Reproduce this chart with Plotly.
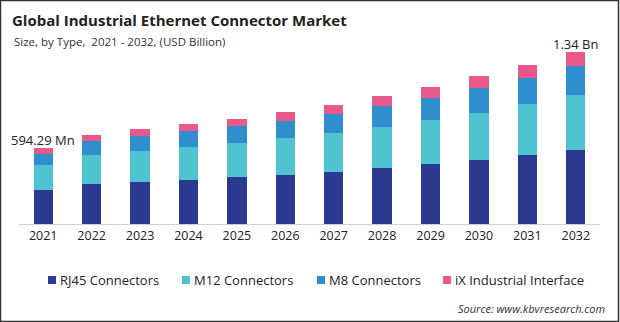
import plotly.graph_objects as go

years = ["2021", "2022", "2023", "2024", "2025", "2026", "2027", "2028", "2029", "2030", "2031", "2032"]
rj45 = [268, 312, 328, 344, 367, 383, 406, 437, 468, 500, 539, 577]
m12 = [193, 226, 242, 258, 266, 289, 305, 320, 343, 367, 398, 429]
m8 = [86, 109, 117, 125, 133, 133, 148, 164, 172, 195, 203, 226]
ix = [47.29, 47, 55, 55, 55, 70, 70, 78, 86, 94, 101, 108]

series_names = ["RJ45 Connectors", "M12 Connectors", "M8 Connectors", "iX Industrial Interface"]
series_values = [rj45, m12, m8, ix]
series_colors = ["#2B3990", "#4FC3CF", "#2E8ECE", "#E8588A"]

totals = [a + b + c + d for a, b, c, d in zip(rj45, m12, m8, ix)]
first_label = "594.29 Mn"
last_label = "1.34 Bn"

FONT = "Open Sans"
W, H = 620, 322
ML, MR, MT, MB = 19, 20, 40, 98
PW, PH = W - ML - MR, H - MT - MB


def px(x):
    return (x - ML) / PW


def py(y):
    return (H - MB - y) / PH


fig = go.Figure()
for name, vals, col in zip(series_names, series_values, series_colors):
    fig.add_trace(go.Bar(x=years, y=vals, name=name, marker=dict(color=col, line=dict(width=0)),
                         hoverinfo="skip", showlegend=False))

fig.add_annotation(x=0, y=totals[0], text=first_label, showarrow=False,
                   yanchor="bottom", yshift=-3, font=dict(family=FONT, size=13, color="#222"))
fig.add_annotation(x=len(years) - 1, y=totals[-1], text=last_label, showarrow=False,
                   yanchor="bottom", yshift=-3, font=dict(family=FONT, size=13, color="#222"))

fig.add_annotation(xref="paper", yref="paper", x=px(12), y=py(41.5),
                   xanchor="left", yanchor="middle", showarrow=False,
                   text="Size, by Type,  2021 - 2032, (USD Billion)",
                   font=dict(family=FONT, size=11.5, color="#333"))
fig.add_annotation(xref="paper", yref="paper", x=px(607), y=py(308),
                   xanchor="right", yanchor="middle", showarrow=False,
                   text="<i>Source: www.kbvresearch.com</i>",
                   font=dict(family=FONT, size=11, color="#333"))

# custom legend (square + label)
legend_x = [48, 182, 317, 443]
legend_y = 280
shapes = []
for lx, name, col in zip(legend_x, series_names, series_colors):
    shapes.append(dict(type="rect", xref="paper", yref="paper",
                       x0=px(lx), x1=px(lx + 8), y0=py(legend_y + 4), y1=py(legend_y - 4),
                       line=dict(width=0), fillcolor=col))
    fig.add_annotation(xref="paper", yref="paper", x=px(lx + 10), y=py(legend_y),
                       xanchor="left", yanchor="middle", showarrow=False, text=name,
                       font=dict(family=FONT, size=13, color="#222"))

shapes.append(dict(type="rect", xref="paper", yref="paper",
                   x0=px(0.5), x1=px(W - 1.5), y0=py(H - 0.5), y1=py(0.5),
                   line=dict(color="#333", width=1.5), fillcolor="rgba(0,0,0,0)"))

fig.update_layout(
    width=W, height=H,
    margin=dict(l=ML, r=MR, t=MT, b=MB),
    barmode="stack", bargap=0.6,
    plot_bgcolor="white", paper_bgcolor="white",
    showlegend=False,
    title=dict(text="<b>Global Industrial Ethernet Connector Market</b>",
               xref="container", yref="container", x=12 / W, xanchor="left",
               y=1 - 21 / H, yanchor="middle",
               font=dict(family=FONT, size=15, color="#222")),
    xaxis=dict(type="category", range=[-0.5, len(years) - 0.5], showline=True, linecolor="#d0d0d0",
               linewidth=1, ticks="", showgrid=False,
               tickfont=dict(family=FONT, size=12.5, color="#222"), fixedrange=True),
    yaxis=dict(range=[0, 1435], visible=False, showgrid=False, fixedrange=True),
    shapes=shapes,
)

fig.write_html("out.html", config={"displayModeBar": False})
